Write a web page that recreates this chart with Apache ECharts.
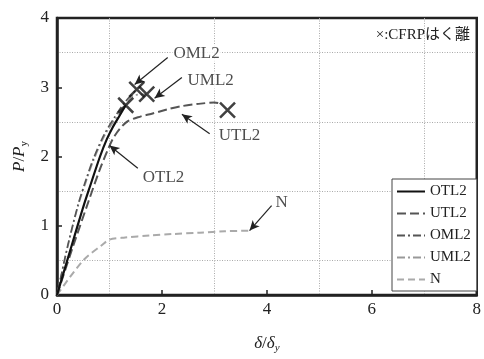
<!DOCTYPE html>
<html><head><meta charset="utf-8">
<script src="https://cdn.jsdelivr.net/npm/echarts@6/dist/echarts.min.js"></script>
<style>html,body{margin:0;padding:0;background:#fff}#c{width:484px;height:359px}</style>
</head><body><div id="c"></div>
<script>
// data (x = δ/δy, y = P/Py)
var otl2 = [[0,0],[0.27,0.69],[0.5,1.27],[0.63,1.57],[0.82,2.0],[0.95,2.25],[1.06,2.42],[1.2,2.6],[1.31,2.74]];
var utl2 = [[0,0],[0.3,0.69],[0.6,1.35],[0.8,1.78],[0.97,2.1],[1.1,2.3],[1.33,2.5],[1.6,2.58],[1.77,2.61],[2.1,2.68],[2.4,2.73],[2.7,2.76],[3.0,2.78],[3.08,2.77]];
var oml2 = [[0,0],[0.2,0.7],[0.4,1.3],[0.55,1.66],[0.7,1.98],[0.9,2.32],[1.1,2.57],[1.3,2.79],[1.52,2.97]];
var uml2 = [[0,0],[0.2,0.68],[0.4,1.28],[0.55,1.63],[0.7,1.95],[0.9,2.29],[1.1,2.53],[1.3,2.74],[1.45,2.88],[1.71,2.9]];
var nSer = [[0,0],[0.5,0.5],[0.87,0.73],[1.0,0.8],[1.3,0.83],[1.77,0.86],[2.2,0.88],[2.72,0.9],[3.2,0.92],[3.67,0.93]];
var peelPoints = [[1.31,2.74],[1.52,2.97],[1.71,2.9],[3.25,2.67]];
var seriesNames = ['OTL2','UTL2','OML2','UML2','N'];
var labelPos = [[2.66,3.49],[2.93,3.1],[3.48,2.3],[2.03,1.7],[4.28,1.33]];
var labelText = ['OML2','UML2','UTL2','OTL2','N'];
var arrowFrom = [[2.11,3.43],[2.38,3.14],[2.91,2.33],[1.54,1.83],[4.09,1.29]];
var arrowTo = [[1.48,3.04],[1.86,2.84],[2.38,2.61],[1.0,2.16],[3.67,0.93]];
var xTicks = [0,2,4,6,8];
var yTicks = [0,1,2,3,4];
var noteText = '×:CFRPはく離';

var serif = '"Liberation Serif","Times New Roman",serif';
var chart = echarts.init(document.getElementById('c'));
function lineSer(name, data, color, width, dash) {
  return {name:name, type:'line', data:data, symbol:'none', showSymbol:false, smooth:0.3,
    lineStyle:{color:color, width:width, type:dash}, itemStyle:{color:color}, z:3};
}
var arrows = arrowFrom.map(function(f,i){ return [{coord:f},{coord:arrowTo[i]}]; });
chart.setOption({
  animation:false,
  title:{text:noteText, right:9, top:23, textStyle:{fontFamily:serif+',"Noto Sans CJK JP"', fontSize:15, fontWeight:'normal', color:'#222'}},
  grid:{left:57, right:6, top:18, bottom:61, show:true, borderColor:'#222', borderWidth:2.5},
  legend:{data:seriesNames, orient:'vertical', left:392, top:179, itemWidth:28, itemHeight:10, itemGap:7,
    padding:[5,6,4,4], borderColor:'#444', borderWidth:1, backgroundColor:'#fff',
    itemStyle:{opacity:0},
    textStyle:{fontFamily:serif, fontSize:15, color:'#222'}},
  xAxis:{type:'value', min:xTicks[0], max:xTicks[xTicks.length-1], interval:2,
    axisLine:{lineStyle:{color:'#222', width:2.5}}, axisTick:{inside:true, length:5, lineStyle:{color:'#222', width:1.5}},
    axisLabel:{fontFamily:serif, fontSize:17, color:'#222', margin:6},
    splitLine:{show:false}, minorTick:{show:false, splitNumber:2},
    minorSplitLine:{show:true, lineStyle:{color:'#aaa', type:[1,1.5], width:1}},
    name:'{i|δ}/{i|δ}{s|y}', nameLocation:'middle', nameGap:38,
    nameTextStyle:{fontFamily:serif, fontSize:17, color:'#222', rich:{i:{fontFamily:serif, fontStyle:'italic', fontSize:17}, s:{fontFamily:serif, fontStyle:'italic', fontSize:11, padding:[10,0,0,0]}}}},
  yAxis:{type:'value', min:yTicks[0], max:yTicks[yTicks.length-1], interval:1,
    axisLine:{lineStyle:{color:'#222', width:2.5}}, axisTick:{inside:true, length:5, lineStyle:{color:'#222', width:1.5}},
    axisLabel:{fontFamily:serif, fontSize:17, color:'#222', margin:8},
    splitLine:{show:false}, minorTick:{show:false, splitNumber:2},
    minorSplitLine:{show:true, lineStyle:{color:'#aaa', type:[1,1.5], width:1}},
    name:'{i|P}/{i|P}{s|y}', nameLocation:'middle', nameGap:26, nameRotate:90,
    nameTextStyle:{fontFamily:serif, fontSize:17, color:'#222', rich:{i:{fontFamily:serif, fontStyle:'italic', fontSize:17}, s:{fontFamily:serif, fontSize:11, padding:[10,0,0,0]}}}},
  series:[
    lineSer('N', nSer, '#aaa', 2, [7,4]),
    lineSer('UML2', uml2, '#999', 1.6, [8,3,2,3]),
    lineSer('OML2', oml2, '#555', 1.6, [8,3,2,3]),
    lineSer('UTL2', utl2, '#555', 2, [9,4]),
    lineSer('OTL2', otl2, '#111', 2.2, 'solid'),
    {name:'peel', type:'scatter', data:peelPoints, symbol:'path://M0,0L10,10M10,0L0,10', symbolSize:15,
      itemStyle:{color:'none', borderColor:'#111', borderWidth:2.5}, z:5},
    {name:'annot', type:'scatter', symbolSize:0, z:6,
      data:labelPos.map(function(p,i){return {value:p, name:labelText[i]};}),
      label:{show:true, position:'inside', formatter:'{b}', fontFamily:serif, fontSize:17, color:'#222', backgroundColor:'#fff', padding:[0,1]},
      markLine:{silent:true, symbol:['none','arrow'], symbolSize:[7,10], label:{show:false},
        lineStyle:{color:'#222', width:1.2, type:'solid'}, data:arrows}}
  ]
});
</script></body></html>
